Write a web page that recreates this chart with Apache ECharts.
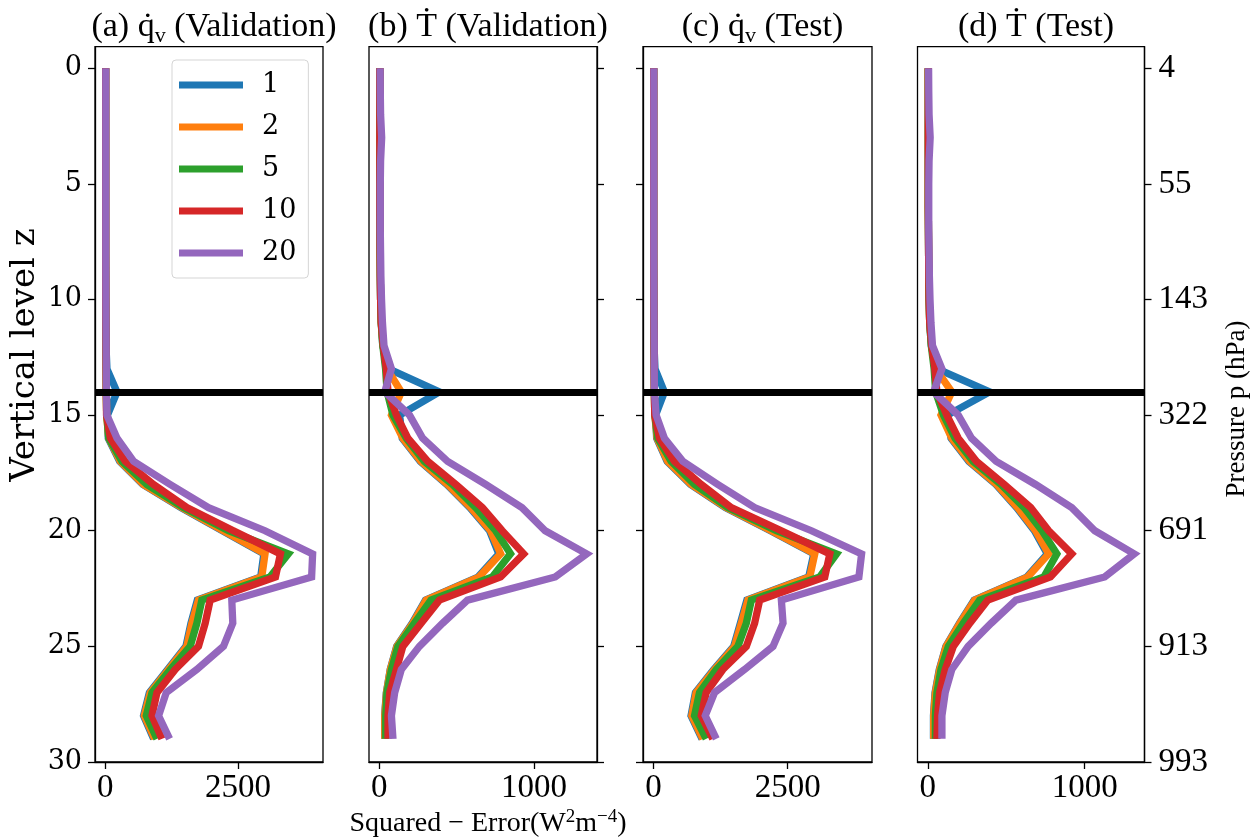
<!DOCTYPE html>
<html><head><meta charset="utf-8">
<script src="https://cdn.jsdelivr.net/npm/echarts@6/dist/echarts.min.js"></script>
<style>html,body{margin:0;padding:0;background:#fff}#c{width:1254px;height:839px}</style>
</head><body><div id="c"></div>
<script>
// ---- data ----
const levels = [0,1,2,3,4,5,6,7,8,9,10,11,12,13,14,15,16,17,18,19,20,21,22,23,24,25,26,27,28,29];
const runs = ['1','2','5','10','20'];
const colors = ['#1f77b4','#ff7f0e','#2ca02c','#d62728','#9467bd'];

// (a) qv validation
const qvVal_1  = [5,5,5,5,5,5,5,5,5,6,7,9,12,30,220,40,55,270,705,1425,2210,2990,2930,1735,1615,1520,1175,830,720,910];
const qvVal_2  = [5,5,5,5,5,5,5,5,5,6,7,9,12,15,18,25,63,282,721,1444,2228,3012,2950,1757,1632,1537,1192,847,734,928];
const qvVal_5  = [5,5,5,5,5,5,5,5,5,6,7,9,12,14,17,25,63,314,785,1474,2322,3451,3106,1820,1726,1600,1224,879,772,973];
const qvVal_10 = [5,5,5,5,5,5,5,5,5,6,7,9,12,14,17,22,94,376,910,1537,2415,3303,3209,1977,1883,1757,1318,973,879,1067];
const qvVal_20 = [8,8,8,8,8,8,8,8,8,9,10,12,15,18,20,30,220,533,1224,1946,3012,3910,3891,2385,2404,2228,1726,1148,1004,1211];
// (b) T validation
const tVal_1  = [3,3,3,3,3,3,3,4,5,6,8,12,22,60,388,131,148,265,436,585,712,772,638,298,212,112,70,45,34,34];
const tVal_2  = [3,3,3,3,3,3,3,4,5,6,8,12,24,50,142,78,152,270,441,591,719,784,644,302,216,114,71,46,35,35];
const tVal_5  = [3,3,3,3,3,3,3,4,5,6,8,12,22,40,50,88,174,291,473,623,752,848,730,334,227,120,78,49,41,41];
const tVal_10 = [3,3,3,3,3,3,3,4,5,6,8,12,25,45,56,110,184,313,495,666,794,933,784,388,270,152,110,67,56,56];
const tVal_20 = [5,6,8,15,8,6,6,6,8,10,14,20,30,78,35,195,280,441,687,922,1072,1340,1137,570,409,259,142,99,78,88];
// (c) qv test
const qvTest_1  = [5,5,5,5,5,5,5,5,5,6,7,9,12,30,205,40,60,255,690,1340,2180,2985,2890,1740,1618,1495,1122,782,700,905];
const qvTest_2  = [5,5,5,5,5,5,5,5,5,6,7,9,12,15,18,25,69,267,703,1356,2196,3004,2910,1760,1636,1511,1138,796,714,920];
const qvTest_5  = [5,5,5,5,5,5,5,5,5,6,7,9,12,14,17,25,81,330,765,1387,2289,3408,3097,1823,1729,1573,1170,858,765,982];
const qvTest_10 = [5,5,5,5,5,5,5,5,5,6,7,9,12,14,17,25,112,392,890,1450,2382,3284,3190,1978,1884,1729,1293,982,890,1106];
const qvTest_20 = [8,8,8,8,8,8,8,8,8,9,10,12,15,15,19,50,205,547,1200,1884,2942,3875,3825,2382,2413,2226,1698,1138,965,1170];
// (d) T test
const tTest_1  = [3,3,3,3,3,3,3,4,5,6,8,12,22,60,394,125,148,262,435,566,680,762,632,295,202,115,73,46,36,36];
const tTest_2  = [3,3,3,3,3,3,3,4,5,6,8,12,24,50,153,84,153,268,440,572,687,771,637,299,205,117,75,48,37,37];
const tTest_5  = [3,3,3,3,3,3,3,4,5,6,8,12,22,40,50,100,174,289,467,614,729,823,740,331,226,131,84,58,48,48];
const tTest_10 = [3,3,3,3,3,3,3,4,5,6,8,12,25,45,58,121,194,310,488,656,771,918,782,383,268,163,111,75,62,58];
const tTest_20 = [5,6,8,15,8,6,6,6,8,10,14,20,30,90,37,194,279,436,687,918,1065,1316,1128,562,404,257,153,111,90,90];

const highlightLevel = 14;
const yTicks = [0,5,10,15,20,25,30];
const pressureLabels = ['4','55','143','322','691','913','993'];
const qvTicks = [0,2500];
const tTicks = [0,1000];

// ---- layout ----
const SERIF_T = "'Liberation Serif', 'Times New Roman', serif";
const SERIF_D = "'DejaVu Serif', serif";
const gridTop = 46.7, gridH = 715.3;
const panels = [
  {left:95,    width:228, sets:[qvVal_1,qvVal_2,qvVal_5,qvVal_10,qvVal_20], ticks:qvTicks, yPos:'left',  yLab:'level',
   title:'{t|(a) q\u0307}{s|v}{t| (Validation)}'},
  {left:369,   width:228, sets:[tVal_1,tVal_2,tVal_5,tVal_10,tVal_20], ticks:tTicks, yPos:'right', yLab:null,
   title:'{t|(b) \u1E6A (Validation)}'},
  {left:643,   width:229, sets:[qvTest_1,qvTest_2,qvTest_5,qvTest_10,qvTest_20], ticks:qvTicks, yPos:'left', yLab:null,
   title:'{t|(c) q\u0307}{s|v}{t| (Test)}'},
  {left:917.5, width:227, sets:[tTest_1,tTest_2,tTest_5,tTest_10,tTest_20], ticks:tTicks, yPos:'right', yLab:'pressure',
   title:'{t|(d) \u1E6A (Test)}'}
];

const titleRich = {
  t:{fontFamily:SERIF_T, fontSize:34, fontWeight:'normal', color:'#000', lineHeight:40},
  s:{fontFamily:SERIF_T, fontSize:22, fontWeight:'normal', color:'#000', lineHeight:24, verticalAlign:'bottom'}
};

const grid = [], xAxis = [], yAxis = [], series = [], title = [];
const axisLineStyle = {color:'#000', width:1.3};
panels.forEach((p, i) => {
  grid.push({left:p.left, top:gridTop, width:p.width, height:gridH, show:true,
             borderColor:'#000', borderWidth:1.3, backgroundColor:'#fff'});
  let mx = 0; p.sets.forEach(a => a.forEach(v => { if (v > mx) mx = v; }));
  xAxis.push({type:'value', gridIndex:i, min:-0.05*mx, max:1.05*mx,
    axisLine:{show:true, onZero:false, lineStyle:axisLineStyle},
    axisTick:{show:true, customValues:p.ticks, length:7, lineStyle:axisLineStyle},
    axisLabel:{show:true, customValues:p.ticks, margin:10, color:'#000', fontFamily:SERIF_T, fontSize:33,
      formatter: v => String(v)},
    splitLine:{show:false}});
  const yl = {show: !!p.yLab, customValues:yTicks, color:'#000'};
  if (p.yLab === 'level') { Object.assign(yl, {fontFamily:SERIF_D, fontSize:27, margin:13, formatter: v => String(v)}); }
  if (p.yLab === 'pressure') { Object.assign(yl, {fontFamily:SERIF_T, fontSize:33, margin:14,
      formatter: v => pressureLabels[yTicks.indexOf(v)]}); }
  yAxis.push({type:'value', gridIndex:i, inverse:true, min:-0.93, max:30, position:p.yPos,
    axisLine:{show:true, onZero:false, lineStyle:axisLineStyle},
    axisTick:{show:true, customValues:yTicks, length:7, lineStyle:axisLineStyle},
    axisLabel:yl, splitLine:{show:false}});
  series.push({type:'line', xAxisIndex:i, yAxisIndex:i, data:[], z:1, silent:true,
    markLine:{silent:true, symbol:'none', animation:false, label:{show:false},
      lineStyle:{color:'#000', width:7, type:'solid'}, data:[{yAxis:highlightLevel}]}});
  p.sets.forEach((arr, j) => {
    series.push({type:'line', name:runs[j], xAxisIndex:i, yAxisIndex:i, z:2,
      data: levels.map((l, k) => [arr[k], l]),
      showSymbol:false, symbol:'none', silent:true,
      lineStyle:{width:7.3, color:colors[j], cap:'butt', join:'miter'},
      itemStyle:{color:colors[j]}});
  });
  title.push({text:p.title, left:p.left + p.width/2, top:2, textAlign:'center',
    textStyle:{fontWeight:'normal', rich:titleRich}});
});

title.push({text:'{t|Squared \u2212 Error(W}{p|2}{t|m}{p|\u22124}{t|)}', left:483, top:803, textAlign:'center',
  textStyle:{fontWeight:'normal', rich:{
    t:{fontFamily:SERIF_T, fontSize:28, fontWeight:'normal', color:'#000', lineHeight:32},
    p:{fontFamily:SERIF_T, fontSize:19, fontWeight:'normal', color:'#000', lineHeight:20, verticalAlign:'top'}
  }}});

const chart = echarts.init(document.getElementById('c'), null, {renderer:'canvas'});
chart.setOption({
  animation:false,
  backgroundColor:'#fff',
  title, grid, xAxis, yAxis, series,
  legend:{data:runs, orient:'vertical', left:172, top:60, icon:'rect', itemWidth:64, itemHeight:7,
    itemGap:12, padding:[10,12,10,7], borderColor:'#d5d5d5', borderWidth:1, borderRadius:4,
    backgroundColor:'rgba(255,255,255,0.85)', selectedMode:false,
    textStyle:{fontFamily:SERIF_D, fontSize:27, color:'#000', lineHeight:30, padding:[0,0,0,14]}},
  graphic:[
    {type:'text', x:25, y:355, rotation:Math.PI/2,
     style:{text:'Vertical level z', fontFamily:SERIF_D, fontSize:34, fill:'#000', align:'center', verticalAlign:'middle'}},
    {type:'text', x:1237, y:409, rotation:Math.PI/2,
     style:{text:'Pressure p (hPa)', fontFamily:SERIF_T, fontSize:27, fill:'#000', align:'center', verticalAlign:'middle'}}
  ]
});
</script></body></html>
